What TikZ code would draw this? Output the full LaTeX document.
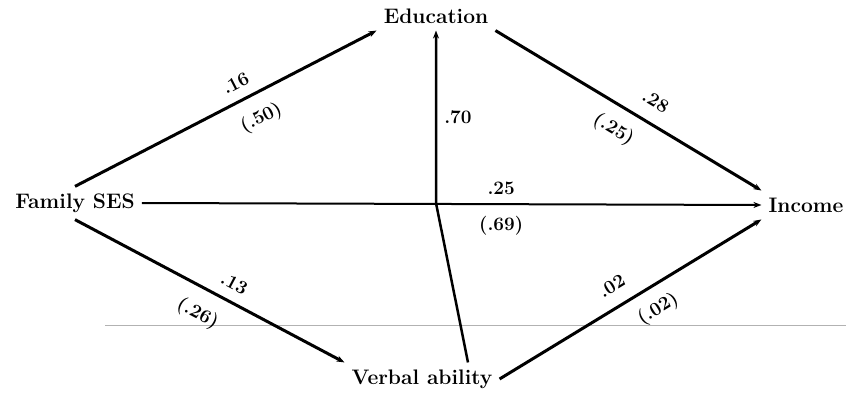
\documentclass[tikz,border=0pt]{standalone}
\usepackage{fontspec}
\usepackage{tikz}
\usetikzlibrary{arrows.meta}

\begin{document}
\begin{tikzpicture}[x=1pt,y=-1pt,
  var/.style={font=\fontsize{21}{24}\selectfont\bfseries,inner sep=7pt},
  coef/.style={font=\fontsize{19}{22}\selectfont\bfseries,inner sep=2pt},
  arr/.style={-{Stealth[length=8pt,width=6pt]},line width=3pt},
  thinarr/.style={arr,line width=2pt}]
\useasboundingbox (0,0) rectangle (846,393);
\node[var] (edu) at (436,16) {Education};
\node[var] (ses) at (75,203) {Family SES};
\node[var] (inc) at (806,205) {Income};
\node[var] (verb) at (422,379) {Verbal ability};
\coordinate (cross) at (436,203);
% scan rule
\draw[gray!60,line width=0.6pt] (105,325) -- (846,325);
\draw[arr] (ses.north) -- node[coef,pos=0.56,above=8pt,sloped]{.16} node[coef,pos=0.58,below=12pt,sloped]{(.50)} (edu.south west);
\draw[arr] (edu.south east) -- node[coef,pos=0.56,above=12pt,sloped]{.28} node[coef,pos=0.49,below=11pt,sloped]{(.25)} (inc.north west);
\draw[thinarr] (ses.east) -- node[coef,pos=0.58,above=6pt]{.25} node[coef,pos=0.58,below=9pt]{(.69)} (inc.west);
\draw[arr] (ses.south) -- node[coef,pos=0.56,above=8pt,sloped]{.13} node[coef,pos=0.5,below=13pt,sloped]{(.26)} (verb.north west);
\draw[arr] (verb.east) -- node[coef,pos=0.47,above=11pt,sloped]{.02} node[coef,pos=0.56,below=10pt,sloped]{(.02)} (inc.south west);
\draw[arr,line width=2.5pt] ([xshift=46pt]verb.north) -- (cross) -- node[coef,pos=0.5,right=5pt]{.70} (edu.south);
\end{tikzpicture}
\end{document}
